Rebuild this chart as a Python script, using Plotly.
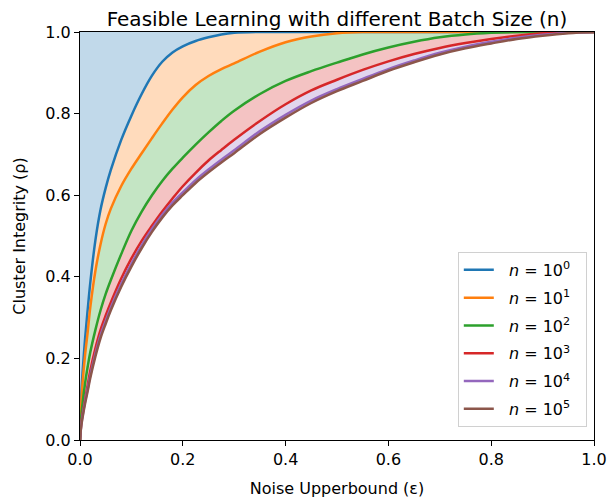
import plotly.graph_objects as go

eps = [0, 0.0025, 0.005, 0.01, 0.015, 0.02, 0.03, 0.04, 0.05, 0.06, 0.08, 0.1, 0.12, 0.14,
       0.16, 0.18, 0.2, 0.225, 0.25, 0.275, 0.3, 0.35, 0.4, 0.45, 0.5, 0.55, 0.6, 0.65,
       0.7, 0.75, 0.8, 0.85, 0.9, 0.95, 1.0]

rho_n1 = [0, .11, .165, .25, .32, .385, .49, .565, .618, .662, .735, .795, .848, .893,
          .927, .95, .965, .978, .987, .994, .998, 1, 1, 1, 1, 1, 1, 1,
          1, 1, 1, 1, 1, 1, 1]
rho_n10 = [0, .09, .14, .21, .265, .325, .415, .48, .53, .567, .622, .665, .703, .74,
           .776, .81, .84, .87, .892, .909, .923, .952, .975, .989, .997, 1, 1, 1,
           1, 1, 1, 1, 1, 1, 1]
rho_n100 = [0, .06, .09, .14, .18, .215, .27, .318, .358, .392, .455, .513, .56, .60,
            .635, .665, .692, .724, .754, .782, .807, .848, .88, .904, .925, .945, .962, .976,
            .987, .994, .998, 1, 1, 1, 1]
rho_n1000 = [0, .04, .065, .10, .135, .17, .225, .27, .305, .337, .395, .445, .488, .525,
             .56, .592, .622, .655, .685, .711, .736, .782, .823, .857, .883, .907, .928, .946,
             .961, .973, .983, .991, .997, 1, 1]
rho_n10000 = [0, .038, .059, .095, .126, .158, .212, .257, .292, .325, .382, .432, .477, .517,
              .552, .582, .607, .637, .663, .687, .71, .757, .797, .832, .86, .885, .909, .93,
              .949, .964, .976, .986, .993, .998, 1]
rho_n100000 = [0, .035, .055, .09, .12, .152, .205, .25, .285, .318, .375, .425, .47, .51,
               .545, .575, .60, .63, .656, .68, .703, .75, .79, .826, .855, .88, .905, .926,
               .945, .96, .972, .983, .991, .997, 1]

series = [rho_n1, rho_n10, rho_n100, rho_n1000, rho_n10000, rho_n100000]
labels = ["<i>n</i> = 10<sup>0</sup>", "<i>n</i> = 10<sup>1</sup>", "<i>n</i> = 10<sup>2</sup>",
          "<i>n</i> = 10<sup>3</sup>", "<i>n</i> = 10<sup>4</sup>", "<i>n</i> = 10<sup>5</sup>"]
colors = ["#1f77b4", "#ff7f0e", "#2ca02c", "#d62728", "#9467bd", "#8c564b"]
fills = ["rgba(31,119,180,0.28)", "rgba(255,127,14,0.28)", "rgba(44,160,44,0.28)",
         "rgba(214,39,40,0.28)", "rgba(148,103,189,0.28)", "rgba(140,86,75,0.28)"]
top = [1] * len(eps)

fig = go.Figure()
fig.add_trace(go.Scatter(x=eps, y=top, mode="lines", line=dict(width=0),
                         showlegend=False, hoverinfo="skip"))
for ys, fc in zip(series, fills):
    fig.add_trace(go.Scatter(x=eps, y=ys, mode="lines", line=dict(width=0, shape="spline"),
                             fill="tonexty", fillcolor=fc, showlegend=False, hoverinfo="skip"))
for i, (ys, c, lab) in enumerate(zip(series, colors, labels)):
    fig.add_trace(go.Scatter(x=eps, y=ys, mode="lines",
                             name="\u00a0\u00a0" + lab + "\u00a0\u00a0",
                             legendgroup=f"g{i}",
                             line=dict(color=c, width=2.5, shape="spline")))

axis_common = dict(showline=True, linecolor="black", linewidth=1.2, mirror=True,
                   ticks="outside", ticklen=5, tickwidth=1.2, tickcolor="black",
                   showgrid=False, zeroline=False, tickformat=".1f", dtick=0.2,
                   tickfont=dict(size=16, color="black"), automargin=False)
fig.update_xaxes(range=[0, 1], title=dict(text="Noise Upperbound (ε)", font=dict(size=16, color="black"),
                                         standoff=14), **axis_common)
fig.update_yaxes(range=[0, 1], title=dict(text="Cluster Integrity (ρ)", font=dict(size=16, color="black"),
                                         standoff=15), **axis_common)

fig.update_layout(
    width=608, height=499,
    margin=dict(l=80, r=14, t=32, b=59),
    paper_bgcolor="white", plot_bgcolor="white",
    font=dict(family="DejaVu Sans", color="black"),
    title=dict(text="Feasible Learning with different Batch Size (n)", x=0.5, xref="paper",
               xanchor="center", y=0.962, yref="container", yanchor="middle",
               font=dict(size=20, color="black")),
    legend=dict(x=0.986, y=0.032, xanchor="right", yanchor="bottom", traceorder="grouped",
                tracegroupgap=4,
                bgcolor="rgba(255,255,255,0.85)", bordercolor="#d0d0d0", borderwidth=1,
                font=dict(size=16, color="black")),
)

fig.write_html("out.html", config={"displayModeBar": False},
               post_script="document.body.style.margin='0px';")
